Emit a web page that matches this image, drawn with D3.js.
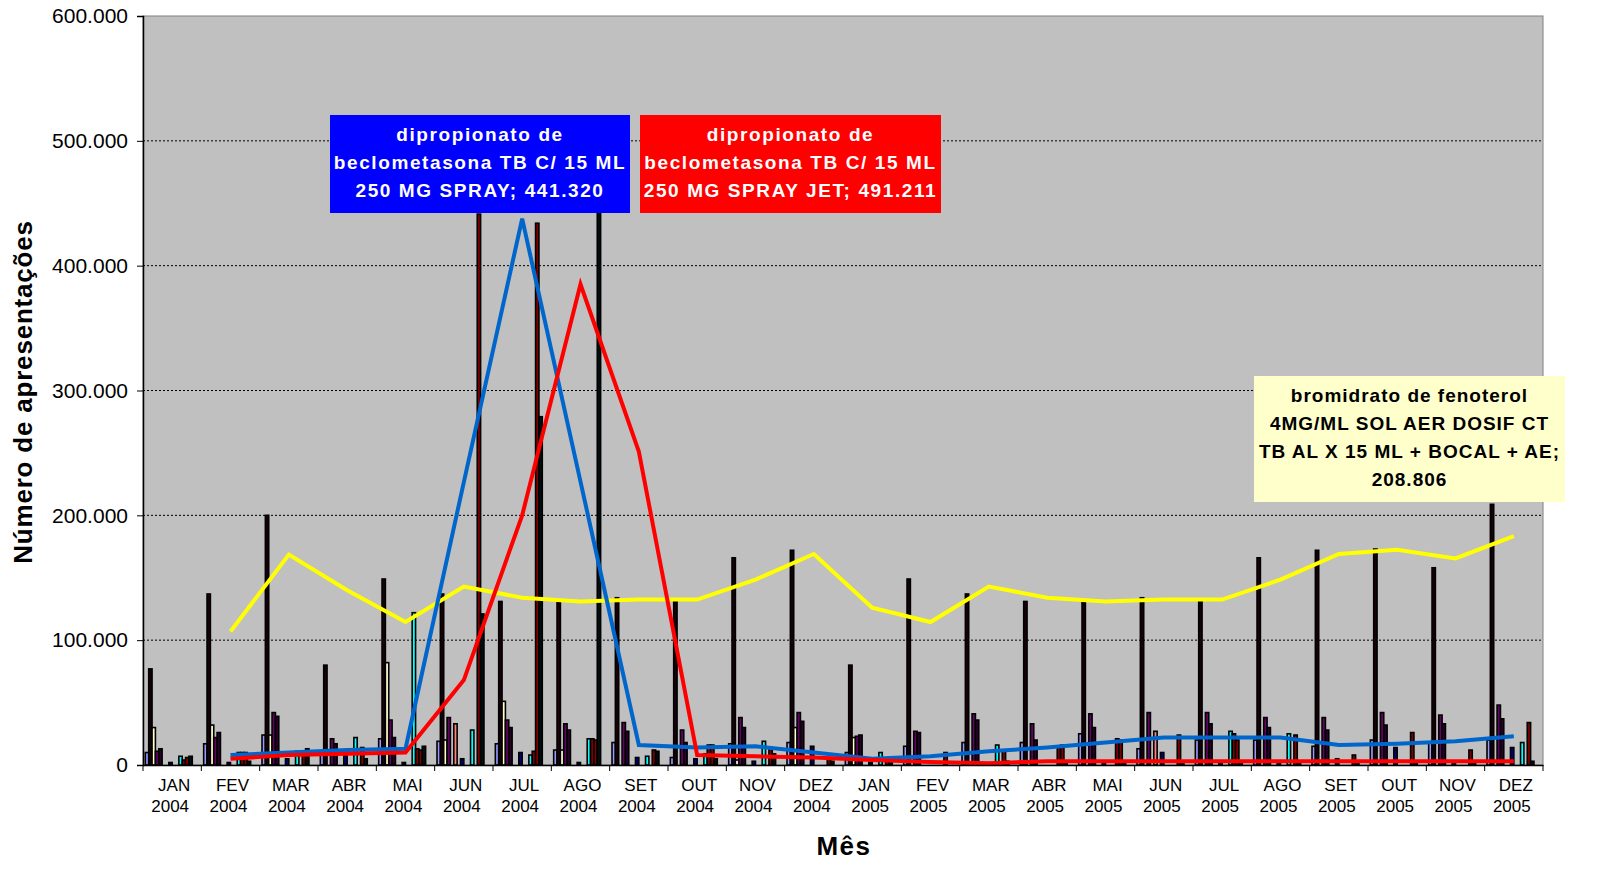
<!DOCTYPE html>
<html>
<head>
<meta charset="utf-8">
<script src="https://cdn.jsdelivr.net/npm/d3@7/dist/d3.min.js"></script>
<style>
  body { margin: 0; background: #fff; }
  svg { font-family: "Liberation Sans", Arial, sans-serif; }
</style>
</head>
<body>
<div id="plot"></div>
<script>
// categories
const months = ["JAN","FEV","MAR","ABR","MAI","JUN","JUL","AGO","SET","OUT","NOV","DEZ",
                "JAN","FEV","MAR","ABR","MAI","JUN","JUL","AGO","SET","OUT","NOV","DEZ"];
const years = ["2004","2004","2004","2004","2004","2004","2004","2004","2004","2004","2004","2004",
               "2005","2005","2005","2005","2005","2005","2005","2005","2005","2005","2005","2005"];
const yTicks = [0, 100000, 200000, 300000, 400000, 500000, 600000];

// bar series (one value per month, JAN 2004 .. DEZ 2005)
const outro1 = [10000,17000,24000,8000,21000,19000,17000,12000,18000,6000,17000,18000, 10000,15000,18000,18000,25000,13000,20000,20000,15000,20000,18000,20000];
const fenoterol = [77000,137000,200000,80000,149000,137000,131000,131000,134000,131000,166000,172000, 80000,149000,137000,131000,131000,134000,131000,166000,172000,173000,158000,208806];
const outro2 = [30000,32000,24000,0,82000,20000,51000,12000,0,0,4000,30000, 22000,0,0,0,0,0,0,0,0,0,0,0];
const outro3 = [11000,22000,42000,21000,36000,38000,36000,33000,34000,28000,38000,42000, 23000,27000,41000,33000,41000,42000,42000,38000,38000,42000,40000,48000];
const outro4 = [13000,26000,39000,17000,22000,0,30000,28000,27000,18000,30000,35000, 24000,26000,36000,20000,30000,0,33000,30000,28000,32000,33000,37000];
const outro5 = [0,0,0,0,0,33000,0,0,0,0,0,0, 0,0,0,0,0,27000,0,0,0,0,0,0];
const outro6 = [0,0,0,0,0,0,0,0,0,0,0,0, 0,0,0,0,0,0,0,0,0,0,0,0];
const outro7 = [2000,2000,5000,8000,2000,5000,10000,2000,6000,5000,3000,15000, 2000,0,0,0,2000,10000,2000,2000,5000,14000,3000,14000];
const outro8 = [0,0,0,0,0,0,0,0,0,0,0,0, 0,0,0,0,0,0,0,0,0,0,0,0];
const outro9 = [0,0,0,0,0,0,0,0,0,0,0,0, 0,0,0,0,0,0,0,0,0,0,0,0];
const outro10 = [7000,10000,11000,22000,122000,28000,8000,21000,7000,9000,19000,0, 10000,0,16000,0,0,0,27000,25000,0,0,0,18000];
const outro11 = [4000,10000,0,0,13000,0,11000,21000,0,16000,0,0, 0,0,0,14000,21000,0,25000,0,0,0,0,0];
const spray = [6000,10000,10000,14000,12000,441320,434000,20000,12000,16000,14000,6000, 4000,10000,12000,16000,20000,24000,20000,24000,8000,26000,12000,34000];
const sprayJet = [7000,3000,13000,5000,15000,121000,279000,491211,11000,5000,9000,3000, 5000,0,3000,3000,3000,3000,3000,3000,3000,3000,3000,3000];
const outro12 = [0,0,0,0,0,0,0,0,0,0,0,0, 0,0,0,0,0,0,0,0,0,0,0,0];
const outro13 = [0,0,0,0,0,0,0,0,0,0,0,0, 0,0,0,0,0,0,0,0,0,0,0,0];

const barSeries = [outro1, fenoterol, outro2, outro3, outro4, outro5, outro6, outro7,
                   outro8, outro9, outro10, outro11, spray, sprayJet, outro12, outro13];
const barColors = ["#9999FF","#1a0008","#FFFFCC","#660066","#2a002a","#FF8080","#0066CC","#000080",
                   "#CCCCFF","#FF00FF","#00FFFF","#800000","#800000","#001010","#008080","#0000FF"];

// 2-period moving average trendlines (Excel "Méd. móv.")
function movingAvg(arr) {
  return arr.map((v, i) => i === 0 ? null : (arr[i - 1] + v) / 2);
}
const trendLines = [
  { values: movingAvg(fenoterol), color: "#FFFF00" },
  { values: movingAvg(spray), color: "#0066CC" },
  { values: movingAvg(sprayJet), color: "#FF0000" }
];

const width = 1623, height = 886;
const margin = { top: 16, right: 80, bottom: 121, left: 143 };

const svg = d3.select("#plot").append("svg")
  .attr("width", width)
  .attr("height", height);

const cats = months.map((m, i) => i);
const x0 = d3.scaleBand()
  .domain(cats)
  .range([margin.left, width - margin.right])
  .paddingInner(0);

const x1 = d3.scaleBand()
  .domain(d3.range(barSeries.length))
  .range([0, x0.bandwidth()])
  .paddingInner(0)
  .paddingOuter(0.7);

const y = d3.scaleLinear()
  .domain([0, 600000])
  .range([height - margin.bottom, margin.top]);

const fmt = d3.formatLocale({ decimal: ",", thousands: ".", grouping: [3], currency: ["R$", ""] }).format(",d");

// plot background
svg.append("rect")
  .attr("x", margin.left)
  .attr("y", margin.top)
  .attr("width", width - margin.left - margin.right)
  .attr("height", height - margin.top - margin.bottom)
  .attr("fill", "#C0C0C0")
  .attr("stroke", "#808080")
  .attr("stroke-width", 1);

// gridlines
svg.append("g")
  .selectAll("line")
  .data(yTicks.filter(t => t > 0 && t < 600000))
  .enter().append("line")
  .attr("x1", margin.left)
  .attr("x2", width - margin.right)
  .attr("y1", d => y(d))
  .attr("y2", d => y(d))
  .attr("stroke", "#000")
  .attr("stroke-width", 1)
  .attr("stroke-dasharray", "2,2");

// bars
const barData = [];
barSeries.forEach((s, k) => {
  s.forEach((v, i) => { if (v > 0) barData.push({ k, i, v }); });
});

svg.append("g")
  .selectAll("rect")
  .data(barData)
  .enter().append("rect")
  .attr("x", d => x0(d.i) + x1(d.k))
  .attr("y", d => y(d.v))
  .attr("width", x1.bandwidth())
  .attr("height", d => y(0) - y(d.v))
  .attr("fill", d => barColors[d.k])
  .attr("stroke", "#000")
  .attr("stroke-width", 1.6);

// trendlines
const line = d3.line()
  .defined(d => d !== null)
  .x((d, i) => x0(i) + x0.bandwidth() / 2)
  .y(d => y(d));

trendLines.forEach(t => {
  svg.append("path")
    .datum(t.values)
    .attr("fill", "none")
    .attr("stroke", t.color)
    .attr("stroke-width", 4)
    .attr("stroke-linejoin", "miter")
    .attr("d", line);
});

// y axis
const yAxis = svg.append("g")
  .attr("transform", `translate(${margin.left},0)`)
  .call(d3.axisLeft(y).tickValues(yTicks).tickSize(6).tickPadding(9).tickFormat(fmt));
yAxis.select(".domain").attr("stroke", "#000").attr("stroke-width", 1.5);
yAxis.selectAll("text").attr("font-size", 21).attr("fill", "#000")
  .attr("font-family", "Liberation Sans, Arial, sans-serif");

// x axis
const xAxis = svg.append("g")
  .attr("transform", `translate(0,${y(0)})`)
  .call(d3.axisBottom(x0).tickSize(0).tickFormat(""));
xAxis.select(".domain").attr("stroke", "#000").attr("stroke-width", 1.5);

// category boundary ticks
svg.append("g")
  .selectAll("line")
  .data(d3.range(cats.length + 1))
  .enter().append("line")
  .attr("x1", d => margin.left + d * x0.step())
  .attr("x2", d => margin.left + d * x0.step())
  .attr("y1", y(0))
  .attr("y2", y(0) + 6)
  .attr("stroke", "#000")
  .attr("stroke-width", 1);

const xLabels = svg.append("g")
  .selectAll("text")
  .data(cats)
  .enter().append("text")
  .attr("text-anchor", "middle")
  .attr("font-size", 17)
  .attr("fill", "#000");
xLabels.append("tspan")
  .attr("x", d => x0(d) + x0.bandwidth() / 2 + 2)
  .attr("y", 791)
  .text(d => months[d]);
xLabels.append("tspan")
  .attr("x", d => x0(d) + x0.bandwidth() / 2 - 2)
  .attr("y", 812)
  .text(d => years[d]);

// axis titles
svg.append("text")
  .attr("x", 844)
  .attr("y", 855)
  .attr("text-anchor", "middle")
  .attr("font-size", 26)
  .attr("font-weight", "bold")
  .attr("letter-spacing", 1.5)
  .text("Mês");

svg.append("text")
  .attr("transform", "rotate(-90)")
  .attr("x", -392)
  .attr("y", 32)
  .attr("text-anchor", "middle")
  .attr("font-size", 26)
  .attr("font-weight", "bold")
  .attr("letter-spacing", 0.8)
  .text("Número de apresentações");

// data label boxes
const labels = [
  { x: 330, y: 115, w: 300, h: 98, fill: "#0000FF", color: "#fff", ls: 1.6,
    lines: ["dipropionato de", "beclometasona TB C/ 15 ML", "250 MG SPRAY; 441.320"] },
  { x: 640, y: 115, w: 301, h: 98, fill: "#FF0000", color: "#fff", ls: 1.6,
    lines: ["dipropionato de", "beclometasona TB C/ 15 ML", "250 MG SPRAY JET; 491.211"] },
  { x: 1254, y: 376, w: 311, h: 126, fill: "#FFFFCC", color: "#000", ls: 1.0,
    lines: ["bromidrato de fenoterol", "4MG/ML SOL AER DOSIF CT", "TB AL X 15 ML + BOCAL + AE;", "208.806"] }
];

labels.forEach(l => {
  const g = svg.append("g");
  g.append("rect")
    .attr("x", l.x).attr("y", l.y)
    .attr("width", l.w).attr("height", l.h)
    .attr("fill", l.fill);
  l.lines.forEach((t, j) => {
    g.append("text")
      .attr("x", l.x + l.w / 2)
      .attr("y", l.y + 26 + j * 28)
      .attr("text-anchor", "middle")
      .attr("font-size", 19)
      .attr("font-weight", "bold")
      .attr("letter-spacing", l.ls)
      .attr("fill", l.color)
      .text(t);
  });
});
</script>
</body>
</html>
